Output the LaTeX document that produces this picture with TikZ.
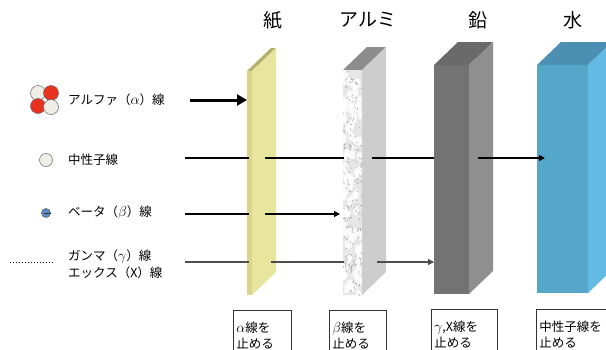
\documentclass[tikz,border=0pt]{standalone}
\usepackage{fontspec}
\setmainfont{Noto Sans CJK JP}
\usetikzlibrary{arrows.meta, positioning}

\definecolor{paperfront}{HTML}{D9D68A}
\definecolor{paperside}{HTML}{E8E69E}
\definecolor{papertop}{HTML}{B4B26A}
\definecolor{alfront}{HTML}{E6E6E6}
\definecolor{alside}{HTML}{CDCDCD}
\definecolor{altop}{HTML}{8C8C8C}
\definecolor{pbfront}{HTML}{737373}
\definecolor{pbside}{HTML}{8F8F8F}
\definecolor{pbtop}{HTML}{6A6A6A}
\definecolor{wfront}{HTML}{55A7C9}
\definecolor{wside}{HTML}{63BAE2}
\definecolor{wtop}{HTML}{4B90B2}
\definecolor{nred}{HTML}{E8321E}
\definecolor{nwhite}{HTML}{EEEEE6}
\definecolor{eblue}{HTML}{5B8DC8}

% slab: x-left, x-right, y-top, y-bottom, front, side, top
\newcommand{\slab}[7]{%
	\fill[#7] (#1,#3) -- ++(24,-23) -- ++(#2-#1,0) -- (#2,#3) -- cycle;
	\fill[#6] (#2,#3) -- ++(24,-23) -- ++(0,#4-#3) -- (#2,#4) -- cycle;
	\fill[#5] (#1,#3) rectangle (#2,#4);
}
% greek letter at the size of the kana around it
\newcommand{\grk}[1]{{\fontsize{15}{15}\selectfont$#1$}}

\tikzset{%
	title/.style={font=\fontsize{19}{21}\selectfont},
	legend/.style={anchor=west, font=\fontsize{12.5}{17}\selectfont, align=left, inner sep=0pt},
	nucleon/.style={draw=black!60, circle, minimum size=15pt, inner sep=0pt, line width=0.5pt},
	ray/.style={line width=1.2pt},
	rayhead/.style={ray, -{Triangle[length=6pt,width=6pt]}},
	gray ray/.style={ray, black!70},
	stopbox/.style={draw=black!80, anchor=north west, align=left, inner sep=3pt,
		minimum height=50pt, font=\fontsize{12.5}{16}\selectfont, line width=0.6pt}
}

\begin{document}
\begin{tikzpicture}[x=1pt, y=-1pt]
	\clip (0,0) rectangle (606,349);
	\fill[white] (0,0) rectangle (606,349);

	% shields
	\slab{247}{252}{71}{295}{paperfront}{paperside}{papertop}
	\slab{343}{362}{70}{295}{alfront}{alside}{altop}
	\slab{434}{469}{65}{294}{pbfront}{pbside}{pbtop}
	\slab{537}{588}{65}{293}{wfront}{wside}{wtop}

	% marble grain on the aluminium face
	\begin{scope}
		\clip (343,70) rectangle (362,295);
		\pgfmathsetseed{7}
		\foreach \k in {1,...,80}{
			\pgfmathsetmacro\px{343+19*rnd}
			\pgfmathsetmacro\py{70+225*rnd}
			\fill[white, opacity=0.8] (\px,\py) ellipse (3pt and 5pt);
		}
		\foreach \k in {1,...,160}{
			\pgfmathsetmacro\px{343+19*rnd}
			\pgfmathsetmacro\py{70+225*rnd}
			\draw[black!40, line width=0.5pt] (\px,\py) -- ++(5*rnd-2.5, 6*rnd-3);
		}
	\end{scope}

	\node[title] (paper) at (273,20) {紙};
	\node[title] (alu) at (368,20) {アルミ};
	\node[title] (lead) at (478,20) {鉛};
	\node[title] (water) at (573,20) {水};

	% legend
	\node[nucleon, fill=nwhite] (a1) at (38,93) {};
	\node[nucleon, fill=nred] (a2) at (51,93) {};
	\node[nucleon, fill=nred] (a3) at (38,106) {};
	\node[nucleon, fill=nwhite] (a4) at (51,107) {};
	\node[legend] (alpha) at (68,100) {アルファ（\grk{\alpha}）線};

	\node[nucleon, fill=nwhite, minimum size=13pt] (n) at (46,160) {};
	\node[legend] (neutron) at (68,160) {中性子線};

	\node[draw=black!70, fill=eblue, circle, minimum size=9pt, inner sep=0pt, line width=0.5pt] (e) at (46,213) {};
	\draw[black!80, line width=0.7pt] ([xshift=-2pt]e.center) -- (e.east);
	\node[legend] (beta) at (68,213) {ベータ（\grk{\beta}）線};

	\coordinate (d0) at (10,262);
	\coordinate (d1) at (53,262);
	\draw[dotted, line width=1pt] (d0) -- (d1);
	\node[legend] (gamma) at (68,264) {ガンマ（\grk{\gamma}）線\\エックス（X）線};

	% rays
	\foreach \name/\x in {a0/190, a1e/247}
		\coordinate (\name) at (\x,100);
	\foreach \name/\x in {n0/185, n1/249, n2/265, n3/344, n4/372, n5/434, n6/478, n7/545}
		\coordinate (\name) at (\x,158);
	\foreach \name/\x in {b0/185, b1/249, b2/265, b3/340}
		\coordinate (\name) at (\x,214);
	\foreach \name/\x in {g0/185, g1/249, g2/271, g3/344, g4/377, g5/434}
		\coordinate (\name) at (\x,262);

	\draw[line width=3pt, -{Triangle[length=10pt,width=11pt]}] (a0) -- (a1e);

	\draw[ray] (n0) -- (n1);
	\draw[ray] (n2) -- (n3);
	\draw[ray] (n4) -- (n5);
	\draw[rayhead] (n6) -- (n7);

	\draw[ray] (b0) -- (b1);
	\draw[rayhead] (b2) -- (b3);

	\draw[gray ray] (g0) -- (g1);
	\draw[gray ray] (g2) -- (g3);
	\draw[gray ray, -{Triangle[length=6pt,width=6pt]}] (g4) -- (g5);

	% what each shield stops
	\node[stopbox, text width=52pt] (s1) at (233,310) {\grk{\alpha}線を\\止める};
	\node[stopbox, text width=51pt] (s2) at (329,310) {\grk{\beta}線を\\止める};
	\node[stopbox, text width=60pt] (s3) at (431,309) {\grk{\gamma},X線を\\止める};
	\node[stopbox, text width=70pt] (s4) at (536,309) {中性子線を\\止める};
\end{tikzpicture}
\end{document}
